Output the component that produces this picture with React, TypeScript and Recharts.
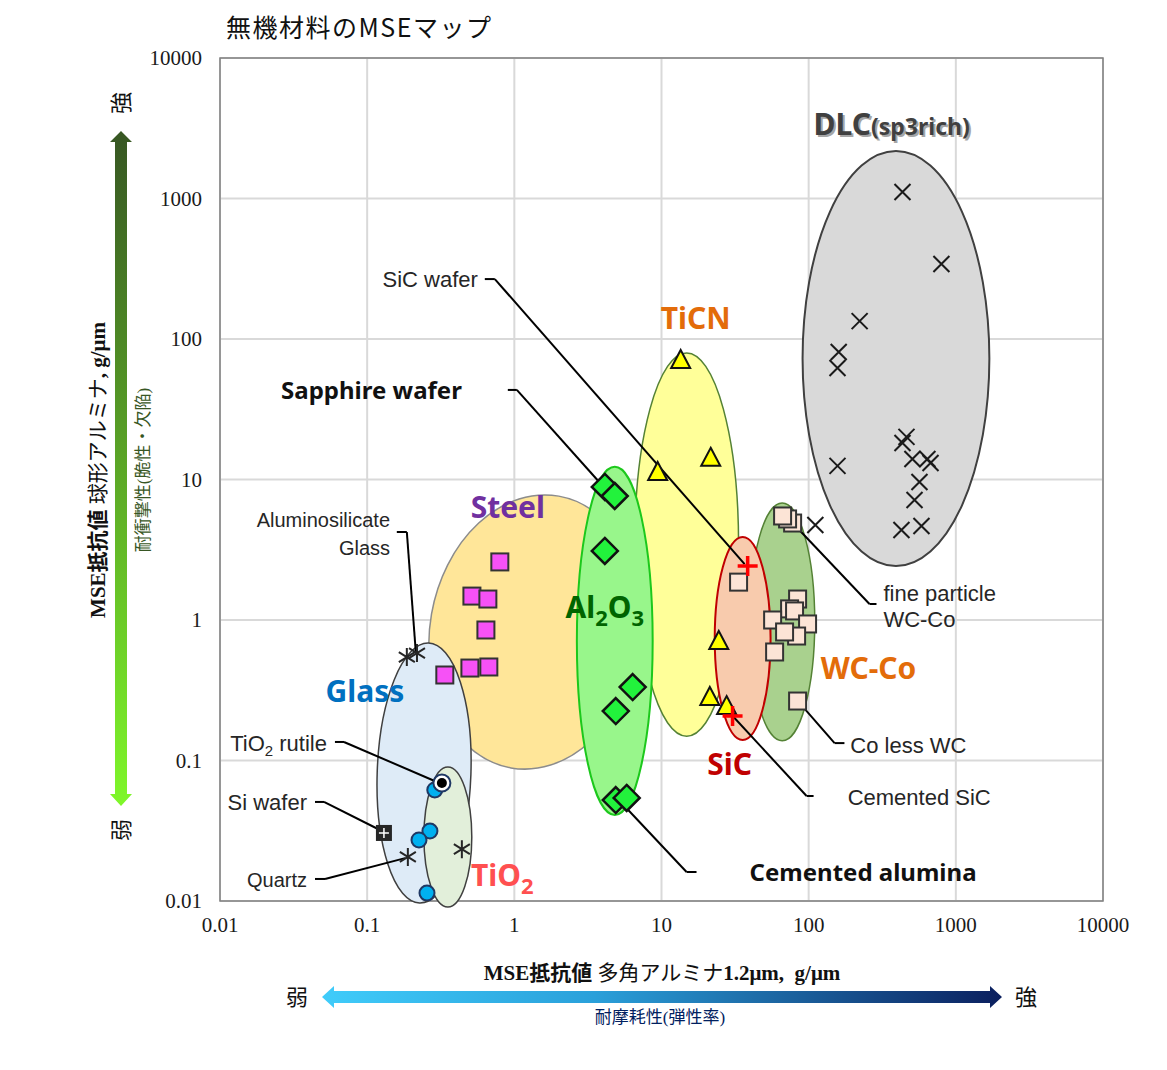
import React from "react";
import {
  ScatterChart,
  Scatter,
  XAxis,
  YAxis,
  CartesianGrid,
  ReferenceArea,
  ReferenceLine,
  ReferenceDot,
} from "recharts";

const W = 1167;
const H = 1070;

const TICKS = [0.01, 0.1, 1, 10, 100, 1000, 10000];

// [多角アルミナ (x), 球形アルミナ (y)]  g/μm
const dlc = [
  [111, 4.75], [434, 1112], [798, 342], [222, 134], [160, 80.8], [157, 62.2], [157, 12.5],
  [462, 20.1], [434, 18.2], [507, 14.0], [641, 14.0], [673, 13.1], [566, 9.6],
  [524, 7.15], [427, 4.37], [584, 4.67],
];
const steel = [
  [0.797, 2.59], [0.515, 1.48], [0.661, 1.41], [0.641, 0.849], [0.499, 0.455],
  [0.671, 0.463], [0.337, 0.406],
];
const alumina = [
  [4.12, 8.85], [4.81, 7.63], [4.12, 3.1], [6.37, 0.333], [4.89, 0.225],
  [4.89, 0.0523], [5.8, 0.0541],
];
const ticn = [[13.5, 72.1], [21.6, 14.5], [9.42, 11.5], [24.5, 0.721], [21.3, 0.288], [27.7, 0.248]];
const wcco = [
  [77.8, 4.9], [71.9, 5.24], [66.5, 5.5], [33.4, 1.86], [84.1, 1.41], [74.2, 1.2], [80.2, 1.16],
  [56.9, 1.0], [98.3, 0.937], [82.8, 0.769], [68.6, 0.822], [58.7, 0.592], [84.1, 0.265],
];
const sic = [[38.5, 2.42], [30.4, 0.207]];
const tio2 = [[0.288, 0.0617], [0.267, 0.0315], [0.225, 0.0272], [0.255, 0.0114]];
const tio2Rutile = [[0.322, 0.0692]];
const siWafer = [[0.13, 0.0305]];
const quartz = [[0.189, 0.0206], [0.44, 0.0234]];
const aluminosilicate = [[0.186, 0.545], [0.218, 0.582]];

// material regions (ellipse extents in data units)
const regions = [
  { key: "Steel", x1: 0.267, x2: 7.11, y1: 0.0856, y2: 7.88 },
  { key: "Glass", x1: 0.117, x2: 0.507, y1: 0.00968, y2: 0.686 },
  { key: "TiO2", x1: 0.243, x2: 0.514, y1: 0.00906, y2: 0.0899 },
  { key: "TiCN", x1: 6.58, x2: 33.4, y1: 0.149, y2: 79.5 },
  { key: "Al2O3", x1: 2.66, x2: 8.71, y1: 0.0409, y2: 12.3 },
  { key: "WC-Co", x1: 39.7, x2: 110, y1: 0.138, y2: 6.8 },
  { key: "SiC", x1: 23.0, x2: 55.1, y1: 0.14, y2: 3.9 },
  { key: "DLC", x1: 90.9, x2: 1690, y1: 2.42, y2: 2178 },
];

const regionStyle: Record<string, any> = {
  Steel: { fill: "#FFE699", stroke: "#8C8C8C", sw: 1.5, rot: 10 },
  Glass: { fill: "#DEEBF7", stroke: "#404040", sw: 1.5, rot: 2 },
  TiO2: { fill: "#E2EFDA", stroke: "#404040", sw: 1.5, rot: 0 },
  TiCN: { fill: "#FFFF99", stroke: "#548235", sw: 1.5, rot: 0 },
  Al2O3: { fill: "#98F68B", stroke: "#1CC81C", sw: 2, rot: 0 },
  "WC-Co": { fill: "#A9D18E", stroke: "#548235", sw: 1.5, rot: 0 },
  SiC: { fill: "#F8CBAD", stroke: "#C00000", sw: 2, rot: 0 },
  DLC: { fill: "#D9D9D9", stroke: "#404040", sw: 2, rot: 0 },
};

// group names
const groupLabels = [
  { key: "DLC", text: "DLC", x: 108, y: 3336 },
  { key: "TiCN", text: "TiCN", x: 17.1, y: 139 },
  { key: "Steel", text: "Steel", x: 0.903, y: 6.37 },
  { key: "Al2O3", text: "Al_2O_3", x: 4.12, y: 1.22 },
  { key: "Glass", text: "Glass", x: 0.0966, y: 0.312 },
  { key: "TiO2", text: "TiO_2", x: 0.507, y: 0.01507 },
  { key: "SiC", text: "SiC", x: 29.0, y: 0.0929 },
  { key: "WC-Co", text: "WC-Co", x: 255, y: 0.448 },
];
const groupColor: Record<string, string> = {
  DLC: "#404040",
  TiCN: "#E36C0A",
  Steel: "#7030A0",
  Al2O3: "#006400",
  Glass: "#0070C0",
  TiO2: "#FF5050",
  SiC: "#C00000",
  "WC-Co": "#E36C0A",
};

// call-outs: text, anchor point, leader polyline
const notes = [
  { text: "SiC wafer", x: 0.565, y: 267, end: true },
  { text: "Sapphire wafer", x: 0.44, y: 42.6, end: true, bold: true },
  { text: "Aluminosilicate", x: 0.143, y: 5.15, end: true, small: true },
  { text: "Glass", x: 0.143, y: 3.25, end: true, small: true },
  { text: "TiO_2 rutile", x: 0.0533, y: 0.133, end: true },
  { text: "Si wafer", x: 0.039, y: 0.05, end: true },
  { text: "Quartz", x: 0.039, y: 0.0141, end: true, small: true },
  { text: "fine particle", x: 322, y: 1.56 },
  { text: "WC-Co", x: 322, y: 1.016 },
  { text: "Co less WC", x: 192, y: 0.129 },
  { text: "Cemented SiC", x: 184, y: 0.0551 },
  { text: "Cemented alumina", x: 39.7, y: 0.0158, bold: true },
];
const leaders = [
  [[0.63, 267], [0.737, 267], [36.7, 2.5]],
  [[0.903, 43.4], [1.04, 43.4], [3.99, 8.99]],
  [[0.159, 4.23], [0.186, 4.23], [0.214, 0.592]],
  [[0.0604, 0.1355], [0.0696, 0.1355], [0.298, 0.0703]],
  [[0.0442, 0.0507], [0.0509, 0.0507], [0.126, 0.0315]],
  [[0.0442, 0.01435], [0.0517, 0.01435], [0.181, 0.0202]],
  [[79.0, 4.82], [259, 1.3], [289, 1.3]],
  [[85.4, 0.261], [150, 0.133], [175, 0.133]],
  [[30.9, 0.204], [96.8, 0.0559], [108, 0.0559]],
  [[5.28, 0.0507], [14.8, 0.01608], [17.3, 0.01608]],
];

const pts = (a: number[][]) => a.map(([x, y]) => ({ x, y }));

const SANS = "'Noto Sans', 'Liberation Sans', sans-serif";
const ARIAL = "'Liberation Sans', Arial, sans-serif";
const SERIF = "'Liberation Serif', 'Noto Sans CJK JP', serif";
const CJK = "'Noto Sans CJK JP', sans-serif";

// "TiO_2" -> TiO + subscript 2 (first part carries no dy so the text's own dy stays)
const rich = (s: string, sub: number, shift: number) => {
  const parts = s.split(/_(\d)/);
  return parts.map((p, i) =>
    i % 2 === 1 ? (
      <tspan key={i} fontSize={sub} dy={shift}>{p}</tspan>
    ) : i === 0 ? (
      p
    ) : (
      <tspan key={i} dy={-shift}>{p}</tspan>
    )
  );
};

// marker shapes
const Cross = ({ cx, cy }: any) => (
  <path d={`M${cx - 8},${cy - 8}L${cx + 8},${cy + 8}M${cx + 8},${cy - 8}L${cx - 8},${cy + 8}`} stroke="#1A1A1A" strokeWidth={2} />
);
const squareShape = (fill: string) => ({ cx, cy }: any) => (
  <rect x={cx - 8.5} y={cy - 8.5} width={17} height={17} fill={fill} stroke="#333" strokeWidth={2} />
);
const Diamond = ({ cx, cy }: any) => (
  <path d={`M${cx},${cy - 13}L${cx + 13},${cy}L${cx},${cy + 13}L${cx - 13},${cy}Z`} fill="#22F23C" stroke="#111" strokeWidth={2.5} />
);
const Triangle = ({ cx, cy }: any) => (
  <path d={`M${cx},${cy - 9}L${cx + 9.5},${cy + 9}L${cx - 9.5},${cy + 9}Z`} fill="#FFFF00" stroke="#111" strokeWidth={2} />
);
const Plus = ({ cx, cy }: any) => (
  <path d={`M${cx - 10},${cy}L${cx + 10},${cy}M${cx},${cy - 10}L${cx},${cy + 10}`} stroke="#FF0000" strokeWidth={3.5} />
);
const BlueDot = ({ cx, cy }: any) => (
  <circle cx={cx} cy={cy} r={7.5} fill="#00B0F0" stroke="#1F3864" strokeWidth={2} />
);
const Rutile = ({ cx, cy }: any) => (
  <g>
    <circle cx={cx} cy={cy} r={8.5} fill="#fff" stroke="#1F3864" strokeWidth={2} />
    <circle cx={cx} cy={cy} r={5} fill="#000" />
  </g>
);
const Wafer = ({ cx, cy }: any) => (
  <g>
    <rect x={cx - 8} y={cy - 8} width={16} height={16} fill="#262626" />
    <path d={`M${cx - 5},${cy}L${cx + 5},${cy}M${cx},${cy - 5}L${cx},${cy + 5}`} stroke="#fff" strokeWidth={1.5} />
  </g>
);
const Asterisk = ({ cx, cy }: any) => (
  <path
    d={`M${cx},${cy - 9}L${cx},${cy + 9}M${cx - 8},${cy - 5}L${cx + 8},${cy + 5}M${cx + 8},${cy - 5}L${cx - 8},${cy + 5}`}
    stroke="#262626"
    strokeWidth={2}
  />
);

const ellipseShape = (key: string) => (p: any) => {
  const s = regionStyle[key];
  const cx = p.x + p.width / 2;
  const cy = p.y + p.height / 2;
  return (
    <ellipse
      cx={cx}
      cy={cy}
      rx={Math.abs(p.width) / 2}
      ry={Math.abs(p.height) / 2}
      fill={s.fill}
      stroke={s.stroke}
      strokeWidth={s.sw}
      transform={`rotate(${s.rot},${cx},${cy})`}
    />
  );
};

const groupShape = (g: any) => (p: any) => {
  const color = groupColor[g.key];
  if (g.key === "DLC") {
    return (
      <g fontFamily={SANS} fontWeight={700}>
        <text x={p.cx + 2} y={p.cy + 2} dy="0.35em" fill="#A6A6A6" fontSize={30}>
          DLC<tspan fontSize={23}>(sp3rich)</tspan>
        </text>
        <text x={p.cx} y={p.cy} dy="0.35em" fill={color} fontSize={30}>
          DLC<tspan fontSize={23}>(sp3rich)</tspan>
        </text>
      </g>
    );
  }
  return (
    <text
      x={p.cx}
      y={p.cy}
      dy="0.35em"
      textAnchor={g.key === "TiO2" ? "start" : "middle"}
      fill={color}
      fontFamily={SANS}
      fontWeight={700}
      fontSize={30}
    >
      {rich(g.text, 22, 8)}
    </text>
  );
};

const noteShape = (n: any) => (p: any) => (
  <text
    x={p.cx}
    y={p.cy}
    dy="0.35em"
    textAnchor={n.end ? "end" : "start"}
    fill={n.bold ? "#111" : "#262626"}
    fontFamily={n.bold ? SANS : ARIAL}
    fontWeight={n.bold ? 700 : 400}
    fontSize={n.bold ? 24 : n.small ? 20 : 22}
  >
    {rich(n.text, 15, 5)}
  </text>
);

const tickStyle = { fill: "#1A1A1A", fontSize: 21, fontFamily: "'Liberation Serif', serif" };

const Overlay = () => (
  <svg width={W} height={H} style={{ position: "absolute", left: 0, top: 0, pointerEvents: "none" }}>
    <defs>
      <linearGradient id="gArrow" x1="0" y1="0" x2="0" y2="1">
        <stop offset="0" stopColor="#375623" />
        <stop offset="1" stopColor="#7FF72A" />
      </linearGradient>
      <linearGradient id="bArrow" x1="0" y1="0" x2="1" y2="0">
        <stop offset="0" stopColor="#40CCFA" />
        <stop offset="0.4" stopColor="#2AA0DA" />
        <stop offset="1" stopColor="#0B1F5E" />
      </linearGradient>
    </defs>
    <text x={226} y={28} dy="0.35em" fontSize={25} letterSpacing={1.5} fontFamily={CJK} fill="#111">
      無機材料のMSEマップ
    </text>

    {/* vertical axis title and arrow */}
    <text x={98} y={470} dy="0.35em" textAnchor="middle" fontSize={21} fontFamily={SERIF} fill="#111" transform="rotate(-90,98,470)">
      <tspan fontWeight={700}>MSE抵抗値</tspan>
      <tspan> 球形アルミナ</tspan>
      <tspan fontWeight={700}>, g/μm</tspan>
    </text>
    <path d="M121,131L132,142L127,142L127,794L132,794L121,806L110,794L115,794L115,142L110,142Z" fill="url(#gArrow)" />
    <text x={121} y={103} dy="0.35em" textAnchor="middle" fontSize={22} fontFamily={CJK} fill="#111" transform="rotate(-90,121,103)">強</text>
    <text x={121} y={830} dy="0.35em" textAnchor="middle" fontSize={22} fontFamily={CJK} fill="#111" transform="rotate(-90,121,830)">弱</text>
    <text x={143} y={470} dy="0.35em" textAnchor="middle" fontSize={17} fontFamily={SERIF} fill="#375623" transform="rotate(-90,143,470)">
      耐衝撃性(脆性・欠陥)
    </text>

    {/* horizontal axis title and arrow */}
    <text x={662} y={973} dy="0.35em" textAnchor="middle" fontSize={21} fontFamily={SERIF} fill="#111">
      <tspan fontWeight={700}>MSE抵抗値</tspan>
      <tspan> 多角アルミナ</tspan>
      <tspan fontWeight={700}>{"1.2μm,\u00a0 g/μm"}</tspan>
    </text>
    <path d="M322,997L334,986L334,991L990,991L990,986L1002,997L990,1008L990,1003L334,1003L334,1008Z" fill="url(#bArrow)" />
    <text x={297} y={997} dy="0.35em" textAnchor="middle" fontSize={22} fontFamily={CJK} fill="#111">弱</text>
    <text x={1026} y={997} dy="0.35em" textAnchor="middle" fontSize={22} fontFamily={CJK} fill="#111">強</text>
    <text x={660} y={1017} dy="0.35em" textAnchor="middle" fontSize={17} fontFamily={SERIF} fill="#002060">
      耐摩耗性(弾性率)
    </text>
  </svg>
);

export default function App() {
  return (
    <div style={{ position: "absolute", left: 0, top: 0, width: W, height: H, background: "#fff" }}>
      <ScatterChart width={W} height={H} margin={{ top: 58, right: 64, bottom: 109, left: 0 }}>
        <CartesianGrid stroke="#D9D9D9" strokeWidth={2} />
        <XAxis
          type="number"
          dataKey="x"
          scale="log"
          domain={[0.01, 10000]}
          ticks={TICKS}
          interval={0}
          allowDataOverflow
          axisLine={false}
          tickLine={false}
          tickSize={0}
          tickMargin={16}
          height={60}
          tick={tickStyle}
        />
        <YAxis
          type="number"
          dataKey="y"
          scale="log"
          domain={[0.01, 10000]}
          ticks={TICKS}
          interval={0}
          allowDataOverflow
          axisLine={false}
          tickLine={false}
          tickSize={0}
          tickMargin={18}
          width={220}
          tick={tickStyle}
        />
        <ReferenceArea x1={0.01} x2={10000} y1={0.01} y2={10000} fill="none" stroke="#808080" strokeWidth={1.5} ifOverflow="visible" />
        {regions.map((r) => (
          <ReferenceArea
            key={r.key}
            x1={r.x1}
            x2={r.x2}
            y1={r.y1}
            y2={r.y2}
            ifOverflow="visible"
            shape={ellipseShape(r.key)}
          />
        ))}
        {leaders.flatMap((l, i) =>
          l.slice(1).map((q, j) => (
            <ReferenceLine
              key={`ld-${i}-${j}`}
              segment={[
                { x: l[j][0], y: l[j][1] },
                { x: q[0], y: q[1] },
              ]}
              stroke="#000"
              strokeWidth={2}
              ifOverflow="visible"
            />
          ))
        )}
        <Scatter data={pts(dlc)} shape={Cross} isAnimationActive={false} />
        <Scatter data={pts(steel)} shape={squareShape("#F651F6")} isAnimationActive={false} />
        <Scatter data={pts(alumina)} shape={Diamond} isAnimationActive={false} />
        <Scatter data={pts(ticn)} shape={Triangle} isAnimationActive={false} />
        <Scatter data={pts(wcco)} shape={squareShape("#FCE4D6")} isAnimationActive={false} />
        <Scatter data={pts(sic)} shape={Plus} isAnimationActive={false} />
        <Scatter data={pts(tio2)} shape={BlueDot} isAnimationActive={false} />
        <Scatter data={pts(tio2Rutile)} shape={Rutile} isAnimationActive={false} />
        <Scatter data={pts(siWafer)} shape={Wafer} isAnimationActive={false} />
        <Scatter data={pts(quartz)} shape={Asterisk} isAnimationActive={false} />
        <Scatter data={pts(aluminosilicate)} shape={Asterisk} isAnimationActive={false} />
        {groupLabels.map((g) => (
          <ReferenceDot key={`g-${g.key}`} x={g.x} y={g.y} r={0} ifOverflow="visible" shape={groupShape(g)} />
        ))}
        {notes.map((n, i) => (
          <ReferenceDot key={`n-${i}`} x={n.x} y={n.y} r={0} ifOverflow="visible" shape={noteShape(n)} />
        ))}
      </ScatterChart>
      <Overlay />
    </div>
  );
}
